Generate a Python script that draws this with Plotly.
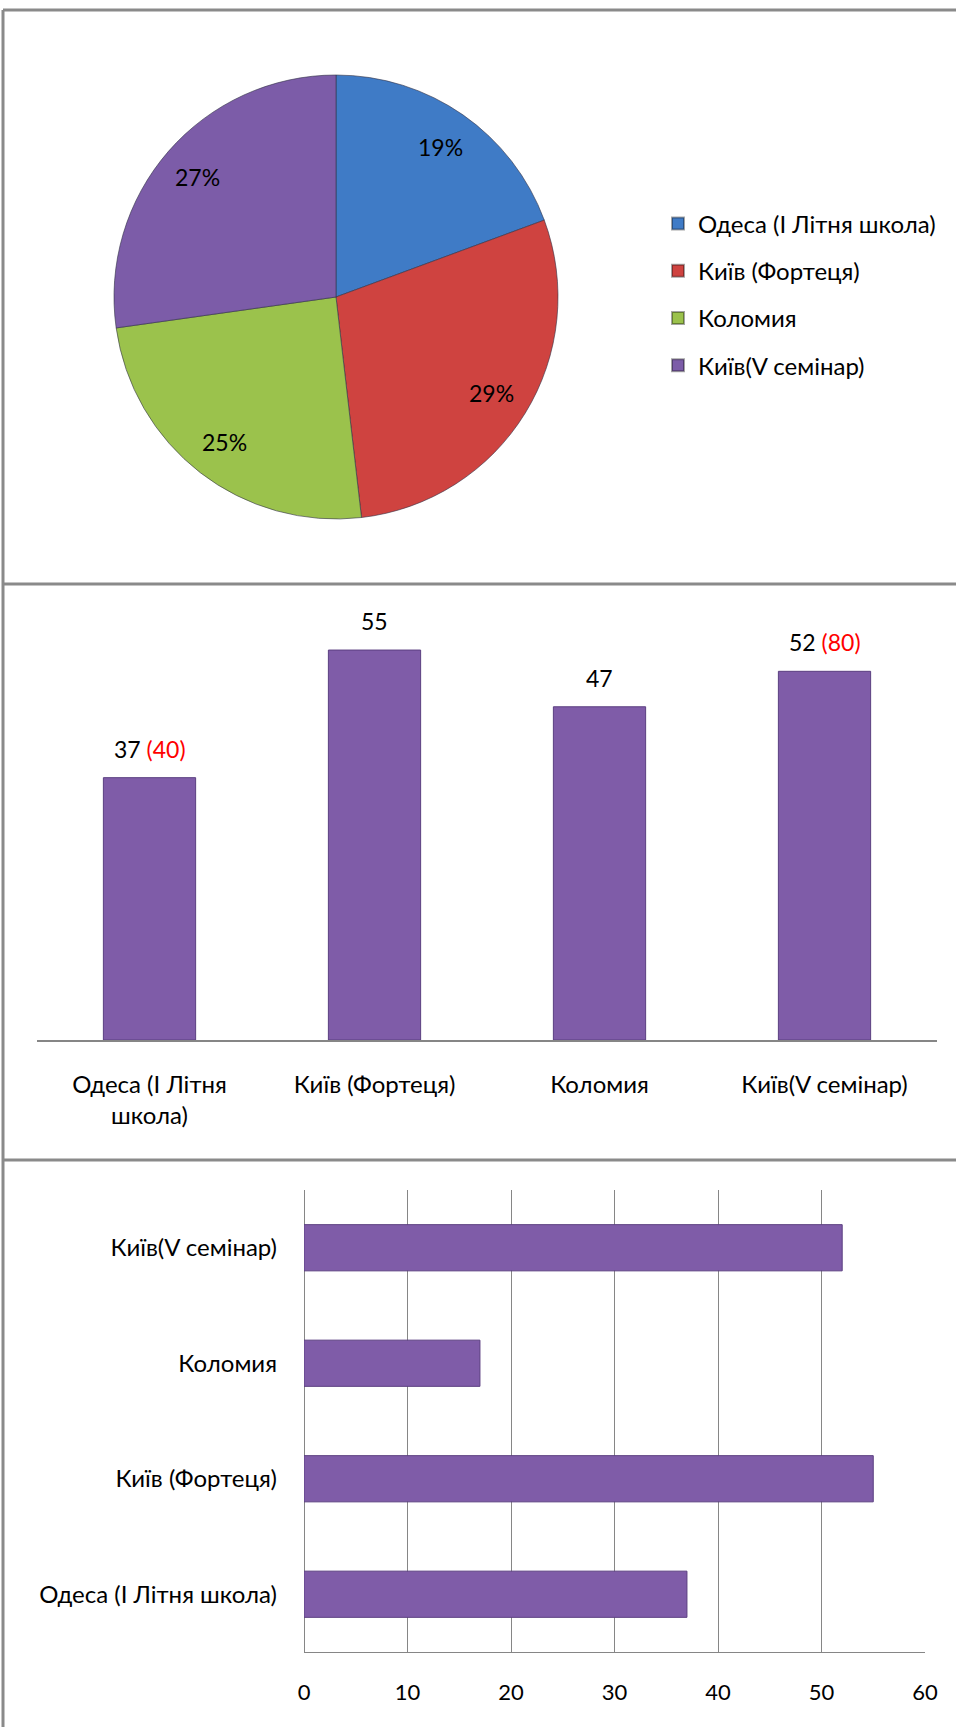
import math
import plotly.graph_objects as go

W, H = 956, 1727

categories = ["Одеса (І Літня школа)", "Київ (Фортеця)", "Коломия", "Київ(V семінар)"]
category_ticks = ["Одеса (І Літня<br>школа)", "Київ (Фортеця)", "Коломия", "Київ(V семінар)"]
participants = [37, 55, 47, 52]
planned = [40, None, None, 80]
hbar_values = [37, 55, 17, 52]
hbar_ticks = [0, 10, 20, 30, 40, 50, 60]

pie_colors = ["#3F7BC6", "#CF4340", "#9BC24C", "#7C5CA8"]
bar_color = "#7F5CA8"
FONT = "Lato"

def px_x(p):
    return p / W

def px_y(p):
    return 1 - p / H

fig = go.Figure()

# Pie geometry (pixels)
PIE_CX, PIE_CY, PIE_R = 336, 297, 222
LABEL_R = 183

fig.add_trace(go.Pie(
    labels=categories, values=participants, sort=False, direction="clockwise",
    rotation=0, marker=dict(colors=pie_colors, line=dict(color="rgba(50,50,70,0.6)", width=1)),
    textinfo="none",
    domain=dict(x=[px_x(PIE_CX - PIE_R), px_x(PIE_CX + PIE_R)],
                y=[px_y(PIE_CY + PIE_R), px_y(PIE_CY - PIE_R)]),
    showlegend=False, hoverinfo="label+percent",
))

# Percent labels placed along the slice bisectors
total = sum(participants)
cum = 0
for v in participants:
    mid = (cum + v / 2) / total * 2 * math.pi
    cum += v
    lx = PIE_CX + LABEL_R * math.sin(mid)
    ly = PIE_CY - LABEL_R * math.cos(mid)
    fig.add_annotation(x=px_x(lx), y=px_y(ly), xref="paper", yref="paper",
                       xanchor="center", yanchor="middle",
                       text=f"{round(100 * v / total)}%", showarrow=False,
                       font=dict(family=FONT, size=23, color="black"))

# Legend entries (dummy markers)
for i, (c, col) in enumerate(zip(categories, pie_colors)):
    fig.add_trace(go.Scatter(
        x=[None], y=[None], mode="markers", name=c, legendgroup=f"g{i}",
        marker=dict(symbol="square", size=14, color=col, line=dict(color="rgba(0,0,0,0.35)", width=1)),
        xaxis="x", yaxis="y", showlegend=True,
    ))

# Vertical bars
fig.add_trace(go.Bar(
    x=categories, y=participants, width=0.41,
    marker=dict(color=bar_color, line=dict(color="#5B3F80", width=1)),
    xaxis="x", yaxis="y", showlegend=False,
))

for c, v, p in zip(categories, participants, planned):
    txt = f"{v}" if p is None else f"{v} <span style='color:#FF0000'>({p})</span>"
    fig.add_annotation(x=c, y=v, xref="x", yref="y", text=txt, showarrow=False,
                       yanchor="bottom", yshift=13, font=dict(family=FONT, size=23, color="black"))

# Horizontal bars
fig.add_trace(go.Bar(
    y=categories, x=hbar_values, orientation="h", width=0.4,
    marker=dict(color=bar_color, line=dict(color="#5B3F80", width=1)),
    xaxis="x2", yaxis="y2", showlegend=False,
))

gray = "#868686"
fig.update_layout(
    width=W, height=H, margin=dict(l=0, r=0, t=0, b=0, autoexpand=False),
    paper_bgcolor="white", plot_bgcolor="white",
    font=dict(family=FONT, size=24, color="black"),
    legend=dict(x=px_x(658), y=px_y(201.5), xanchor="left", yanchor="top",
                font=dict(family=FONT, size=24), tracegroupgap=13, itemsizing="constant",
                bgcolor="rgba(0,0,0,0)"),
    xaxis=dict(domain=[px_x(37), px_x(937)], type="category", categoryorder="array",
               categoryarray=categories, tickvals=categories, ticktext=category_ticks,
               showline=True, linecolor=gray, linewidth=2, ticks="", ticklabelstandoff=22,
               showgrid=False, zeroline=False, anchor="y", tickfont=dict(size=24),
               automargin=False),
    yaxis=dict(domain=[px_y(1040), px_y(600)], range=[0, 62.06], visible=False, anchor="x",
               automargin=False),
    xaxis2=dict(domain=[px_x(304), px_x(925)], range=[0, 60], tickvals=hbar_ticks,
                showgrid=True, gridcolor=gray, gridwidth=1, showline=True, linecolor=gray,
                linewidth=1, ticks="", ticklabelstandoff=21, zeroline=True, zerolinecolor=gray,
                zerolinewidth=1, anchor="y2", tickfont=dict(size=22), automargin=False),
    yaxis2=dict(domain=[px_y(1652), px_y(1190)], type="category", categoryorder="array",
                categoryarray=categories, showgrid=False, ticks="", ticklabelstandoff=26,
                anchor="x2", showline=False, tickfont=dict(size=24), automargin=False),
    bargap=0.5,
)

# Frame and panel separators
frame = dict(color="#8A8A8A", width=3)
fig.add_shape(type="line", xref="paper", yref="paper", x0=px_x(3), x1=1.01, y0=px_y(10), y1=px_y(10), line=frame)
fig.add_shape(type="line", xref="paper", yref="paper", x0=px_x(3), x1=px_x(3), y0=px_y(10), y1=-0.01, line=frame)
fig.add_shape(type="line", xref="paper", yref="paper", x0=px_x(3), x1=1.01, y0=px_y(584), y1=px_y(584), line=frame)
fig.add_shape(type="line", xref="paper", yref="paper", x0=px_x(3), x1=1.01, y0=px_y(1160), y1=px_y(1160), line=frame)

fig.write_html("out.html", config={"displayModeBar": False},
               post_script="document.body.style.margin='0px';"
                           "document.documentElement.style.overflow='hidden';"
                           "document.body.style.overflow='hidden';")
